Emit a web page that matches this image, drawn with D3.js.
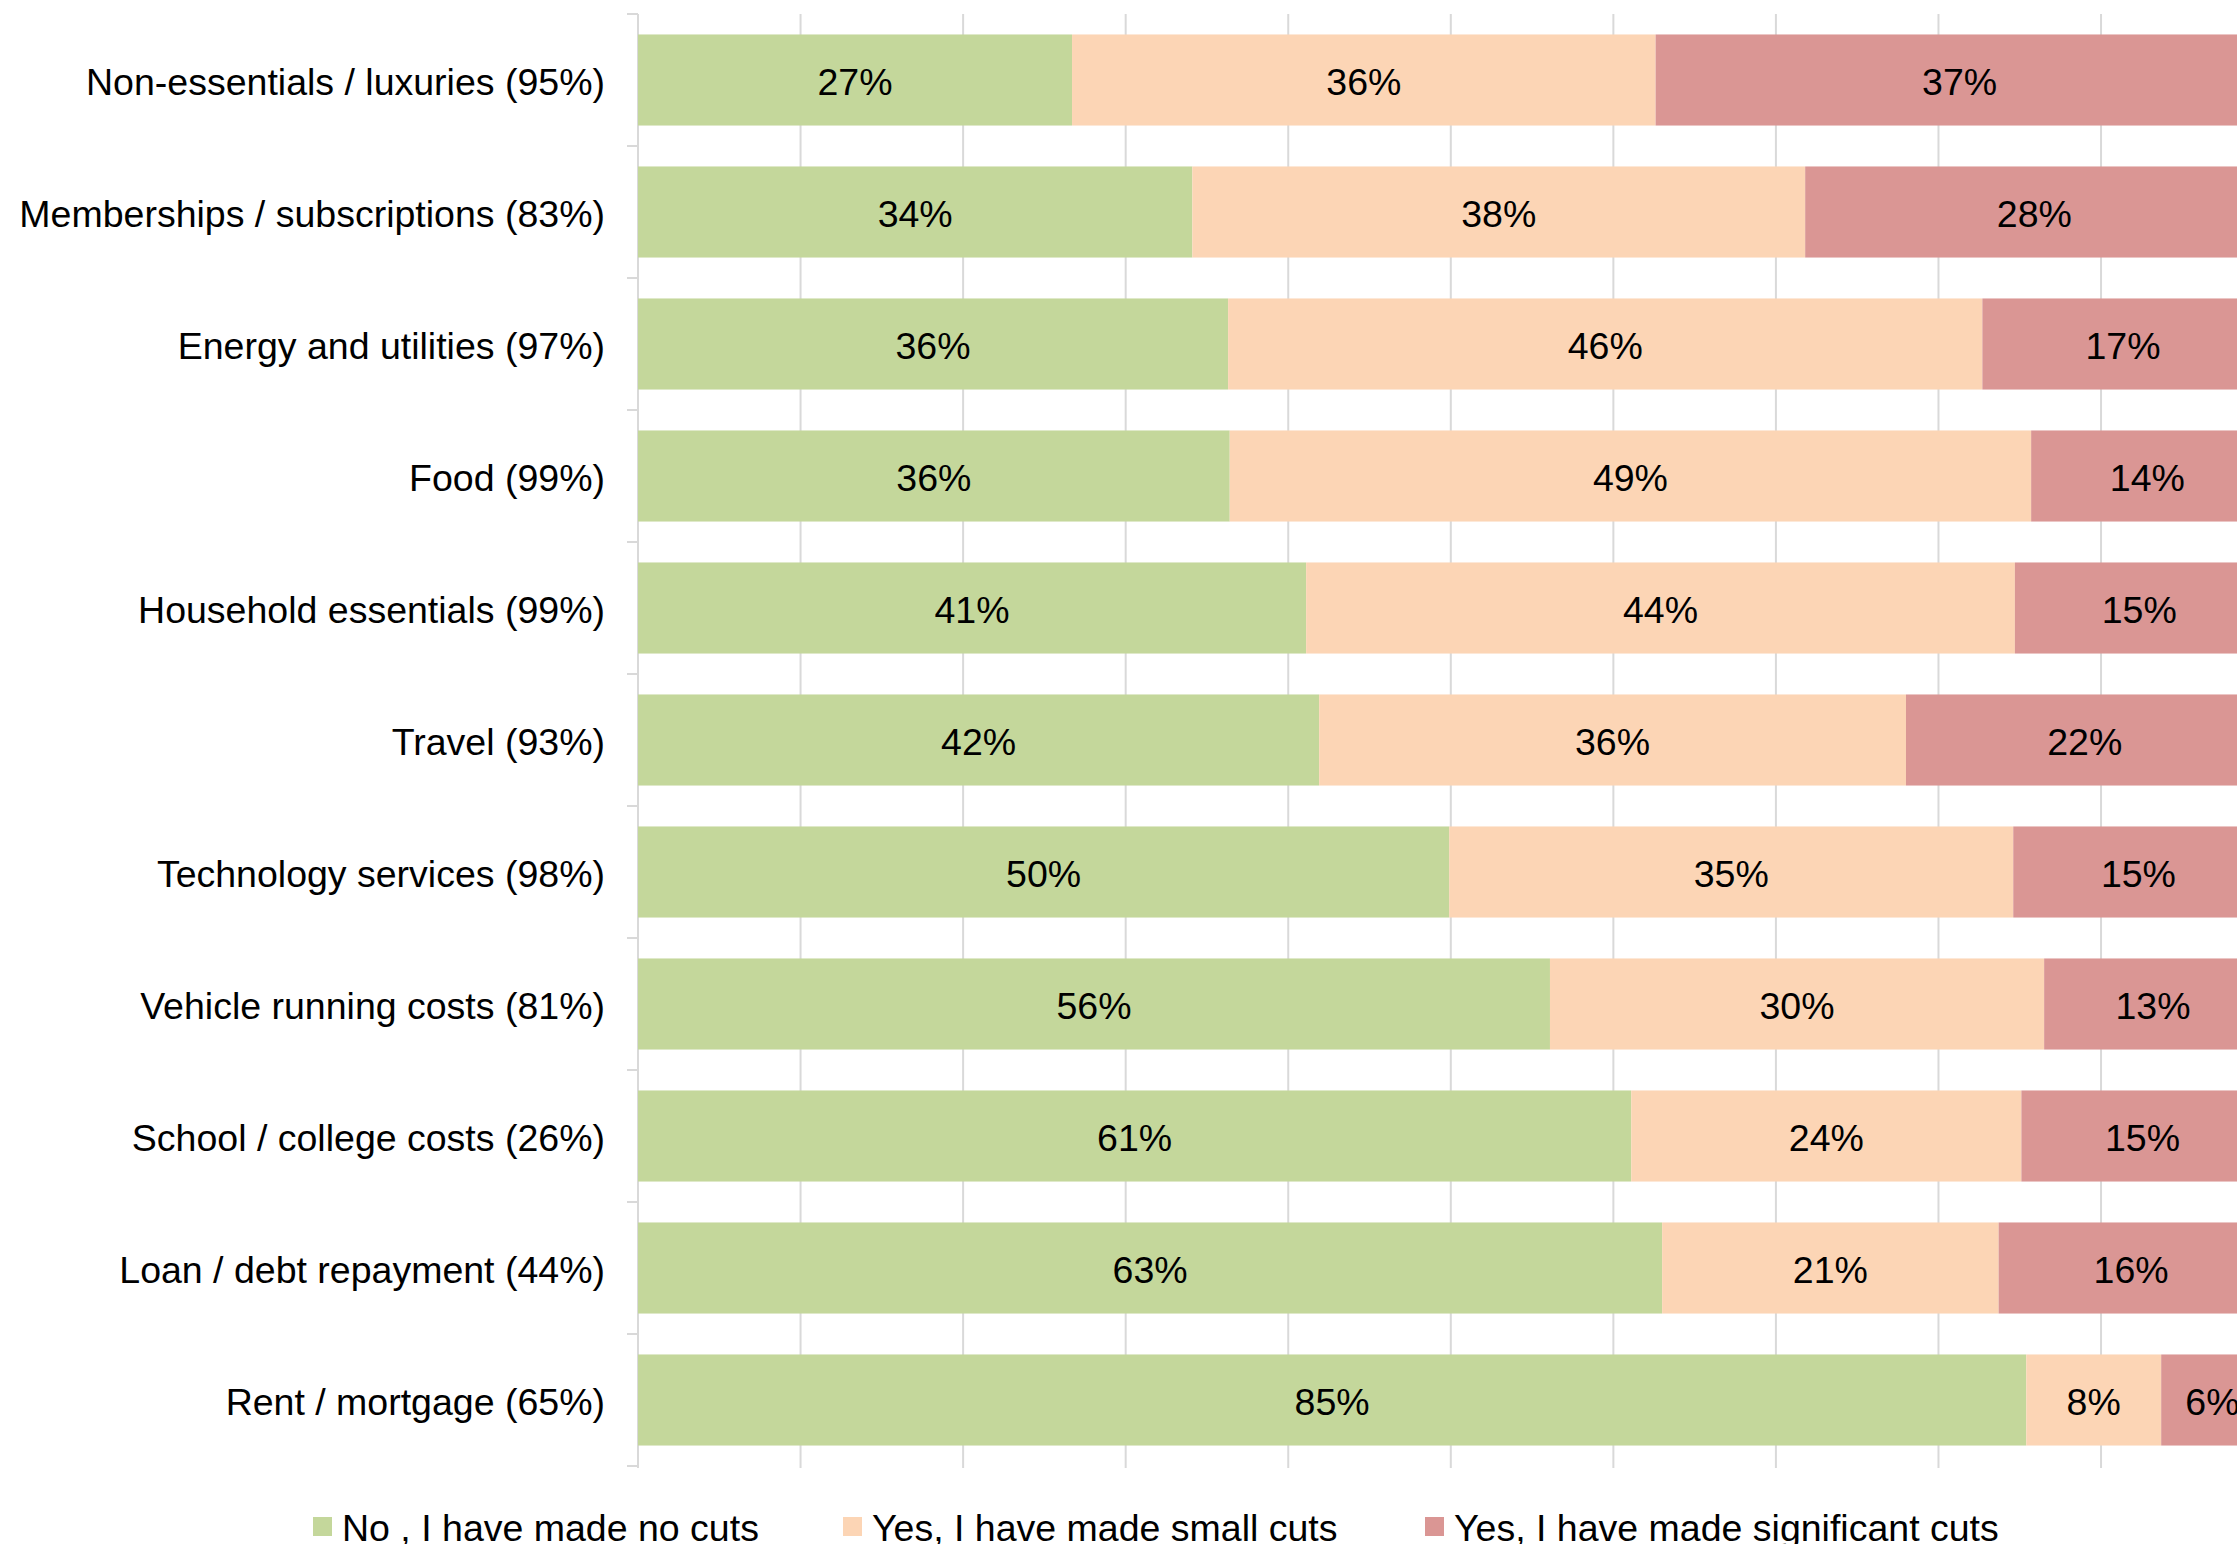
<!DOCTYPE html>
<html>
<head>
<meta charset="utf-8">
<script src="https://cdn.jsdelivr.net/npm/d3@7"></script>
<style>
  body { margin: 0; background: #fff; }
  text { font-family: "Liberation Sans", Arial, sans-serif; fill: #000; }
</style>
</head>
<body>
<div id="chart"></div>
<script>
var categories = [
  'Non-essentials / luxuries (95%)',
  'Memberships / subscriptions (83%)',
  'Energy and utilities (97%)',
  'Food (99%)',
  'Household essentials (99%)',
  'Travel (93%)',
  'Technology services (98%)',
  'Vehicle running costs (81%)',
  'School / college costs (26%)',
  'Loan / debt repayment (44%)',
  'Rent / mortgage (65%)'
]
var noCuts = [26.7, 34.1, 36.3, 36.4, 41.1, 41.9, 49.9, 56.1, 61.1, 63.0, 85.4]
var smallCuts = [35.9, 37.7, 46.4, 49.3, 43.6, 36.1, 34.7, 30.4, 24.0, 20.7, 8.3]
var bigCuts = [37.4, 28.2, 17.3, 14.3, 15.3, 22.0, 15.4, 13.4, 14.9, 16.3, 6.3]
var seriesNames = ['No , I have made no cuts', 'Yes, I have made small cuts', 'Yes, I have made significant cuts']
var colors = ['#C4D79B', '#FCD5B5', '#DA9694']
var xTicks = [0, 10, 20, 30, 40, 50, 60, 70, 80, 90, 100]

var W = 2237, H = 1544
var FS = 37.5
var svg = d3.select('#chart').append('svg')
  .attr('width', W)
  .attr('height', H)

var x = d3.scaleLinear().domain([0, 100]).range([638, 638 + 1625.6])
var y = d3.scaleBand().domain(categories).range([14, 1466])
  .paddingInner(0.31).paddingOuter(0.155)

// gridlines
svg.append('g').selectAll('line')
  .data(xTicks)
  .enter().append('line')
  .attr('x1', d => x(d)).attr('x2', d => x(d))
  .attr('y1', 14).attr('y2', 1468)
  .attr('stroke', '#D9D9D9')
  .attr('stroke-width', 2)

// category axis, ticks sit on the band boundaries
var step = y.step()
var bounds = d3.range(categories.length + 1).map(i => 14 + i * step)
var axisG = svg.append('g')
axisG.append('line')
  .attr('x1', x(0)).attr('x2', x(0))
  .attr('y1', 14).attr('y2', 1468)
  .attr('stroke', '#D9D9D9').attr('stroke-width', 2)
axisG.selectAll('line.tick')
  .data(bounds)
  .enter().append('line')
  .attr('class', 'tick')
  .attr('x1', x(0) - 11).attr('x2', x(0))
  .attr('y1', d => d).attr('y2', d => d)
  .attr('stroke', '#D9D9D9').attr('stroke-width', 2)

axisG.selectAll('text')
  .data(categories)
  .enter().append('text')
  .attr('x', 605)
  .attr('y', d => y(d) + y.bandwidth() / 2 + 1.5)
  .attr('dy', '0.35em')
  .attr('text-anchor', 'end')
  .attr('font-size', FS)
  .text(d => d)

// stacked data
var rows = categories.map((c, i) => ({ cat: c, s0: noCuts[i], s1: smallCuts[i], s2: bigCuts[i] }))
var stack = d3.stack().keys(['s0', 's1', 's2'])(rows)

var layers = svg.append('g').selectAll('g')
  .data(stack)
  .enter().append('g')
  .attr('fill', (d, i) => colors[i])

layers.selectAll('rect')
  .data(d => d)
  .enter().append('rect')
  .attr('x', d => x(d[0]))
  .attr('width', d => x(d[1]) - x(d[0]))
  .attr('y', d => y(d.data.cat))
  .attr('height', y.bandwidth())

layers.selectAll('text')
  .data(d => d)
  .enter().append('text')
  .attr('x', d => (x(d[0]) + x(d[1])) / 2)
  .attr('y', d => y(d.data.cat) + y.bandwidth() / 2 + 1.5)
  .attr('dy', '0.35em')
  .attr('text-anchor', 'middle')
  .attr('font-size', FS)
  .text(d => Math.round(d[1] - d[0]) + '%')

// legend
var legendX = [313, 843, 1425]
var legend = svg.append('g').selectAll('g')
  .data(seriesNames)
  .enter().append('g')
  .attr('transform', (d, i) => 'translate(' + legendX[i] + ',1527)')
legend.append('rect')
  .attr('x', 0).attr('y', -10)
  .attr('width', 19).attr('height', 19)
  .attr('fill', (d, i) => colors[i])
legend.append('text')
  .attr('x', 29)
  .attr('y', 1)
  .attr('dy', '0.35em')
  .attr('font-size', FS)
  .text(d => d)
</script>
</body>
</html>
